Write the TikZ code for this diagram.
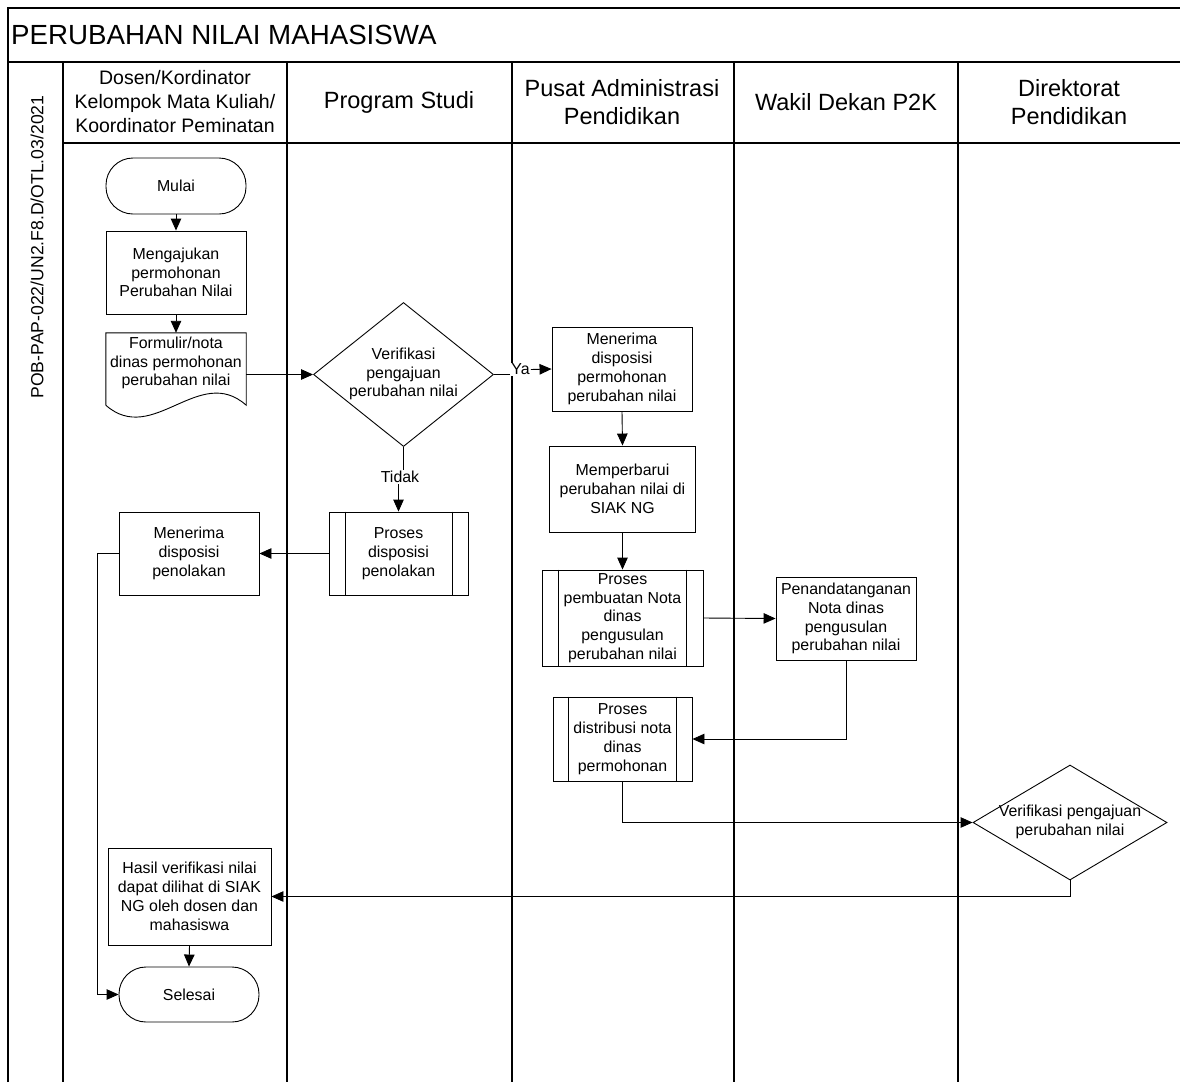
\documentclass[tikz,border=0pt]{standalone}
\usepackage{fontspec}
\setmainfont{Liberation Sans}
\usetikzlibrary{arrows.meta,shapes.geometric}
\newcommand{\nfont}{\fontsize{15.9}{18.8}\selectfont}
\newcommand{\hfontA}{\fontsize{19.5}{24}\selectfont}
\newcommand{\hfontB}{\fontsize{23.5}{28}\selectfont}
\begin{document}
\begin{tikzpicture}[x=1pt,y=-1pt,
  frame/.style={line width=1.3pt,black},
  shp/.style={draw,line width=0.9pt,inner sep=0pt},
  box/.style={shp,rectangle,align=center,font=\nfont},
  term/.style={box,rounded corners=27pt},
  dia/.style={shp,diamond},
  txt/.style={inner sep=0pt,align=center,font=\nfont},
  hdr/.style={inner sep=0pt,align=center},
  lbl/.style={inner sep=1pt,fill=white,font=\nfont},
  arr/.style={line width=0.9pt,-{Triangle[length=12pt,width=10.5pt]}},
  ln/.style={line width=0.9pt}
]
\useasboundingbox (0,0) rectangle (1180,1082);
\fill[white] (0,0) rectangle (1180,1082);

% frame and lanes
\draw[frame] (8,1082) -- (8,8) -- (1180,8);
\draw[frame] (8,62) -- (1180,62);
\draw[frame] (63,143) -- (1180,143);
\draw[frame] (63,62) -- (63,1082);
\draw[frame] (287,62) -- (287,1082);
\draw[frame] (512,62) -- (512,1082);
\draw[frame] (734,62) -- (734,1082);
\draw[frame] (958,62) -- (958,1082);

% title and headers
\node[anchor=west,inner sep=0pt,font=\fontsize{27.7}{32}\selectfont] (title) at (11,35) {PERUBAHAN NILAI MAHASISWA};
\node[rotate=90,inner sep=0pt,font=\fontsize{17.6}{20}\selectfont] (code) at (37,247) {POB-PAP-022/UN2.F8.D/OTL.03/2021};
\node[hdr,font=\hfontA] (h1) at (175,102) {Dosen/Kordinator\\Kelompok Mata Kuliah/\\Koordinator Peminatan};
\node[hdr,font=\hfontB] (h2) at (399,102) {Program Studi};
\node[hdr,font=\hfontB] (h3) at (622,102) {Pusat Administrasi\\Pendidikan};
\node[hdr,font=\hfontB] (h4) at (846,102) {Wakil Dekan P2K};
\node[hdr,font=\hfontB] (h5) at (1069,102) {Direktorat\\Pendidikan};

% lane 1
\node[term,minimum width=140,minimum height=56] (mulai) at (176,186) {Mulai};
\node[box,minimum width=140,minimum height=83] (ajukan) at (176,272.5) {Mengajukan\\permohonan\\Perubahan Nilai};
\node[inner sep=0pt,minimum width=140,minimum height=72] (formulir) at (176,369) {};
\draw[ln] (formulir.south west) -- (formulir.north west) -- (formulir.north east) -- (formulir.south east)
  .. controls (199.3,363.4) and (152.7,446.6) .. (formulir.south west);
\node[txt] (formtxt) at (176,363) {Formulir/nota\\dinas permohonan\\perubahan nilai};
\node[box,minimum width=140,minimum height=83] (tolak) at (189,553.5) {Menerima\\disposisi\\penolakan};
\node[box,minimum width=163,minimum height=97] (hasil) at (189.5,896.5) {Hasil verifikasi nilai\\dapat dilihat di SIAK\\NG oleh dosen dan\\mahasiswa};
\node[term,minimum width=140,minimum height=55] (selesai) at (189,994.5) {Selesai};

% lane 2
\node[dia,minimum width=180,minimum height=144] (v1) at (403.5,374.5) {};
\node[txt] (v1txt) at (403.5,374) {Verifikasi\\pengajuan\\perubahan nilai};
\node[box,minimum width=139,minimum height=83] (pdisp) at (398.5,553.5) {Proses\\disposisi\\penolakan};
\draw[ln] ([xshift=17pt]pdisp.north west) -- ([xshift=17pt]pdisp.south west);
\draw[ln] ([xshift=-16pt]pdisp.north east) -- ([xshift=-16pt]pdisp.south east);

% lane 3
\node[box,minimum width=140,minimum height=84] (terima) at (622,369) {Menerima\\disposisi\\permohonan\\perubahan nilai};
\node[box,minimum width=146,minimum height=86] (perbarui) at (622.5,489) {Memperbarui\\perubahan nilai di\\SIAK NG};
\node[box,minimum width=161,minimum height=96] (pbuat) at (622.5,618) {Proses\\pembuatan Nota\\dinas\\pengusulan\\perubahan nilai};
\draw[ln] ([xshift=17pt]pbuat.north west) -- ([xshift=17pt]pbuat.south west);
\draw[ln] ([xshift=-17pt]pbuat.north east) -- ([xshift=-17pt]pbuat.south east);
\node[box,minimum width=139,minimum height=84] (pdist) at (622.5,739) {Proses\\distribusi nota\\dinas\\permohonan};
\draw[ln] ([xshift=16pt]pdist.north west) -- ([xshift=16pt]pdist.south west);
\draw[ln] ([xshift=-16pt]pdist.north east) -- ([xshift=-16pt]pdist.south east);

% lane 4
\node[box,minimum width=140,minimum height=83] (ttd) at (846,618.5) {Penandatanganan\\Nota dinas\\pengusulan\\perubahan nilai};

% lane 5
\node[dia,minimum width=194,minimum height=115] (v2) at (1070,822.5) {};
\node[txt] (v2txt) at (1070,822) {Verifikasi pengajuan\\perubahan nilai};

% connectors
\draw[arr] (mulai.south) -- (ajukan.north);
\draw[arr] (ajukan.south) -- (formulir.north);
\draw[arr] (formulir.east |- v1.west) -- (v1.west);
\node[lbl] (ya) at (520.5,369.5) {Ya};
\draw[ln] (v1.east) -- (ya.west |- v1.east);
\draw[arr] (ya.east) -- (terima.west);
\node[lbl] (tidak) at (400,477) {Tidak};
\draw[ln] (v1.south) -- (v1.south |- tidak.north);
\draw[arr] (pdisp.north |- tidak.south) -- (pdisp.north);
\draw[arr] (pdisp.west) -- (tolak.east);
\draw[arr] (tolak.west) -- ++(-21,0) |- (selesai.west);
\draw[arr] (terima.south) -- (perbarui.north);
\draw[arr] (perbarui.south) -- (pbuat.north);
\draw[arr] (pbuat.east) -- (ttd.west);
\draw[arr] (ttd.south) |- (pdist.east);
\draw[arr] (pdist.south) |- (v2.west);
\draw[arr] (v2.south) |- (hasil.east);
\draw[arr] (hasil.south) -- (selesai.north);
\end{tikzpicture}
\end{document}
